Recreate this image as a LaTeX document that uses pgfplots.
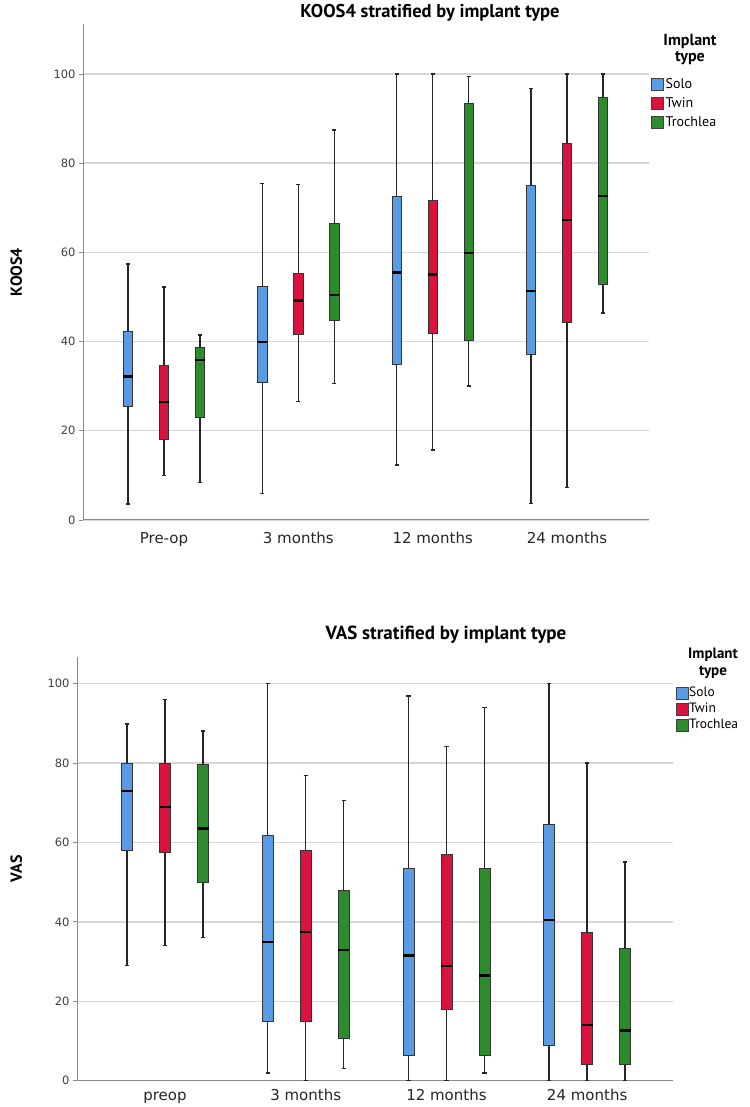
\documentclass[border=0pt]{standalone}
\usepackage{fontspec}
\setmainfont{DejaVu Sans}
\newfontfamily\tfont{PT Sans}
\usepackage{pgfplots}
\pgfplotsset{compat=1.18}
\usepgfplotslibrary{statistics}

\definecolor{solo}{HTML}{5A9BE6}
\definecolor{twin}{HTML}{D8143E}
\definecolor{troch}{HTML}{2C8C2C}
\definecolor{gridc}{HTML}{D6D6D6}
\definecolor{axc}{HTML}{8A8A8A}

% one prepared box: colour, position, lower whisker, Q1, median, Q3, upper whisker
\newcommand{\bx}[7]{\addplot[fill=#1, boxplot prepared={draw position=#2,
  lower whisker=#3, lower quartile=#4, median=#5, upper quartile=#6, upper whisker=#7}] coordinates {};}

\pgfplotsset{panel/.style={
  scale only axis, clip=false,
  axis x line*=bottom, axis y line*=left,
  axis line style={axc, line width=1pt},
  ymin=0, ytick={0,20,...,100},
  ymajorgrids, grid style={gridc, line width=1.3pt},
  xtick={0,1,2,3}, major x tick style={draw=none},
  tick align=outside, major tick length=4pt,
  ytick style={axc, line width=0.8pt},
  yticklabel style={font=\fontsize{11.5}{12}\selectfont, text=black!75},
  xticklabel style={font=\fontsize{15}{16}\selectfont, text=black!85,
    text height=11pt, text depth=3pt},
  /pgf/number format/assume math mode=true,
  boxplot/draw direction=y,
  boxplot/every median/.style={draw=black, line width=2.4pt},
  boxplot/every whisker/.style={draw=black!85, line width=1.4pt},
  every axis plot/.append style={draw=black!80, line width=0.7pt},
  ylabel style={font=\tfont\bfseries\fontsize{16}{16}\selectfont, anchor=center},
  legend image code/.code={\draw[#1, line width=0.6pt] (0pt,-6pt) rectangle (12pt,6pt);},
  legend cell align=left,
}}

\begin{document}
\begin{tikzpicture}
\useasboundingbox (0,0) rectangle (749pt,1107pt);

% ---------------- KOOS4 ----------------
\begin{axis}[panel, at={(83pt,587pt)}, anchor=south west,
  width=566pt, height=496pt,
  xmin=-0.603, xmax=3.61, ymax=111.2,
  xticklabels={Pre-op,3 months,12 months,24 months},
  xticklabel style={yshift=-5pt},
  ylabel={KOOS4}, ylabel style={at={(axis description cs:-0.118,0.5)}},
  boxplot/box extend=0.07, boxplot/whisker extend=0.03,
  legend style={at={(axis description cs:1.004,0.894)}, anchor=north west,
    draw=none, fill=none, inner sep=0pt, row sep=3pt,
    font=\tfont\fontsize{14}{14}\selectfont,
    nodes={inner sep=1.5pt, text height=10pt, text depth=3pt}},
]
\addlegendimage{fill=solo, draw=black!75}\addlegendentry{Solo}
\addlegendimage{fill=twin, draw=black!75}\addlegendentry{Twin}
\addlegendimage{fill=troch, draw=black!75}\addlegendentry{Trochlea}
% Pre-op
\bx{solo}{-0.268}{3.6}{25.4}{32.2}{42.4}{57.4}
\bx{twin}{0}{10.0}{18.0}{26.5}{34.7}{52.2}
\bx{troch}{0.268}{8.4}{22.9}{35.9}{38.6}{41.5}
% 3 months
\bx{solo}{0.732}{5.9}{30.9}{39.9}{52.4}{75.4}
\bx{twin}{1}{26.6}{41.7}{49.2}{55.2}{75.2}
\bx{troch}{1.268}{30.6}{44.8}{50.4}{66.5}{87.4}
% 12 months
\bx{solo}{1.732}{12.3}{34.8}{55.5}{72.5}{100}
\bx{twin}{2}{15.7}{41.8}{55.0}{71.7}{100}
\bx{troch}{2.268}{30.0}{40.2}{59.8}{93.3}{99.4}
% 24 months
\bx{solo}{2.732}{3.7}{37.1}{51.3}{75.0}{96.7}
\bx{twin}{3}{7.3}{44.2}{67.3}{84.5}{100}
\bx{troch}{3.268}{46.4}{52.9}{72.7}{94.8}{100}
\end{axis}
\node[font=\tfont\bfseries\fontsize{18.5}{18.5}\selectfont] at (430pt,1094pt) {KOOS4 stratified by implant type};
\node[font=\tfont\bfseries\fontsize{16}{15.5}\selectfont, align=center] at (690pt,1057.5pt) {Implant\\type};

% ---------------- VAS ----------------
\begin{axis}[panel, at={(77pt,26.3pt)}, anchor=south west,
  width=596pt, height=423.7pt,
  xmin=-0.6256, xmax=3.61, ymax=106.7,
  xticklabels={preop,3 months,12 months,24 months},
  xticklabel style={yshift=-1pt},
  ylabel={VAS}, ylabel style={at={(axis description cs:-0.102,0.5)}},
  boxplot/box extend=0.078, boxplot/whisker extend=0.03,
  legend style={at={(axis description cs:1.004,0.9316)}, anchor=north west,
    draw=none, fill=none, inner sep=0pt, row sep=2pt,
    font=\tfont\fontsize{13.5}{13.5}\selectfont,
    nodes={inner sep=1pt, text height=9.5pt, text depth=2.5pt}},
]
\addlegendimage{fill=solo, draw=black!75}\addlegendentry{Solo}
\addlegendimage{fill=twin, draw=black!75}\addlegendentry{Twin}
\addlegendimage{fill=troch, draw=black!75}\addlegendentry{Trochlea}
% preop
\bx{solo}{-0.27}{29.0}{57.9}{73.0}{79.8}{89.8}
\bx{twin}{0}{34.0}{57.4}{68.9}{80.0}{96.0}
\bx{troch}{0.27}{36.0}{49.9}{63.5}{79.6}{88.1}
% 3 months
\bx{solo}{0.73}{1.9}{15.0}{34.9}{61.9}{100}
\bx{twin}{1}{0}{15.0}{37.4}{57.9}{76.9}
\bx{troch}{1.27}{3.0}{10.6}{32.9}{48.0}{70.6}
% 12 months
\bx{solo}{1.73}{0}{6.4}{31.5}{53.4}{96.9}
\bx{twin}{2}{0}{18.0}{28.9}{56.9}{84.1}
\bx{troch}{2.27}{1.9}{6.4}{26.5}{53.6}{94.0}
% 24 months
\bx{solo}{2.73}{0}{8.9}{40.4}{64.5}{100}
\bx{twin}{3}{0}{4.0}{14.0}{37.4}{80.0}
\bx{troch}{3.27}{0}{4.2}{12.6}{33.4}{55.1}
\end{axis}
\node[font=\tfont\bfseries\fontsize{19}{19}\selectfont] at (446pt,472pt) {VAS stratified by implant type};
\node[font=\tfont\bfseries\fontsize{15}{17}\selectfont, align=center] at (713pt,443.5pt) {Implant\\type};
\end{tikzpicture}
\end{document}
